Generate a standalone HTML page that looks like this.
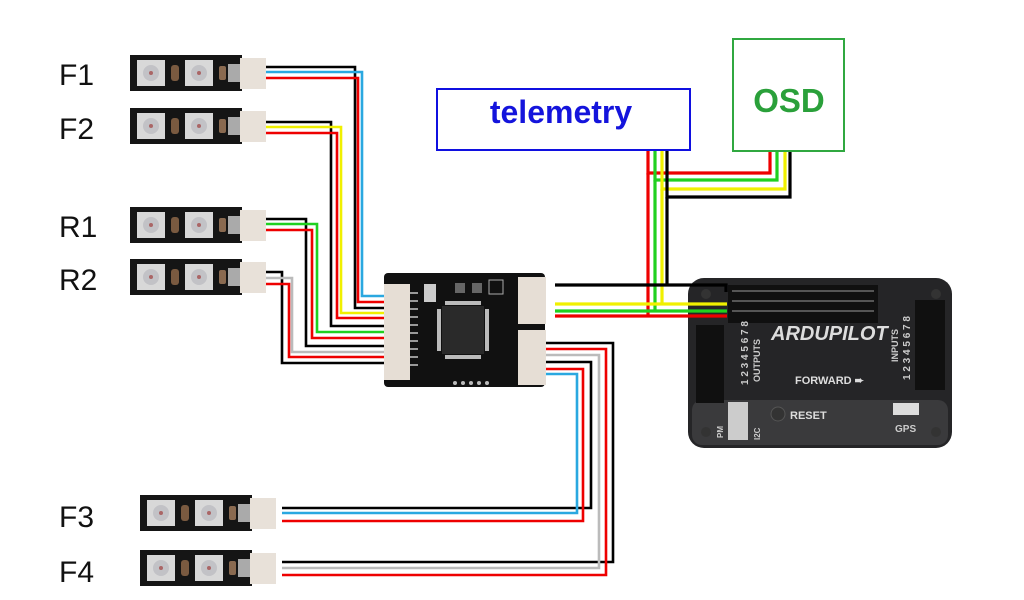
<!DOCTYPE html>
<html><head><meta charset="utf-8"><style>
html,body{margin:0;padding:0;background:#fff;width:1024px;height:600px;overflow:hidden}
svg{display:block}
</style></head><body>
<svg width="1024" height="600" viewBox="0 0 1024 600" xmlns="http://www.w3.org/2000/svg" font-family="Liberation Sans, sans-serif">
<defs>
<g id="strip">
<rect x="0" y="0" width="112" height="36" fill="#151515"/>
<rect x="7" y="5" width="28" height="26" fill="#d8d8d8"/>
<circle cx="21" cy="18" r="8" fill="#c2c2c6"/>
<circle cx="21" cy="18" r="2" fill="#a66"/>
<rect x="41" y="10" width="8" height="16" rx="3" fill="#7a5a40"/>
<rect x="55" y="5" width="28" height="26" fill="#d8d8d8"/>
<circle cx="69" cy="18" r="8" fill="#c2c2c6"/>
<circle cx="69" cy="18" r="2" fill="#a66"/>
<rect x="89" y="11" width="7" height="14" rx="2" fill="#8a6a50"/>
<rect x="98" y="9" width="14" height="18" fill="#aaa"/>
<rect x="110" y="3" width="26" height="31" fill="#e8e1d9"/>
</g>
</defs>

<g font-size="30" fill="#111">
<text x="59" y="85">F1</text>
<text x="59" y="139">F2</text>
<text x="59" y="237">R1</text>
<text x="59" y="290">R2</text>
<text x="59" y="527">F3</text>
<text x="59" y="582">F4</text>
</g>

<use href="#strip" x="130" y="55"/>
<use href="#strip" x="130" y="108"/>
<use href="#strip" x="130" y="207"/>
<use href="#strip" x="130" y="259"/>
<use href="#strip" x="140" y="495"/>
<use href="#strip" x="140" y="550"/>

<g fill="none" stroke-width="2.6">
<polyline points="266,67 355,67 355,308 386,308" stroke="#000"/>
<polyline points="266,72 362,72 362,296 386,296" stroke="#2aa8e0"/>
<polyline points="266,78 358,78 358,302 386,302" stroke="#e00"/>
<polyline points="266,122 331,122 331,326 386,326" stroke="#000"/>
<polyline points="266,127 341,127 341,313 386,313" stroke="#f0f000"/>
<polyline points="266,133 337,133 337,318 386,318" stroke="#e00"/>
<polyline points="266,219 306,219 306,346 386,346" stroke="#000"/>
<polyline points="266,224 317,224 317,332 386,332" stroke="#20d020"/>
<polyline points="266,230 312,230 312,338 386,338" stroke="#e00"/>
<polyline points="266,272 282,272 282,363 386,363" stroke="#000"/>
<polyline points="266,278 292,278 292,352 386,352" stroke="#bbb"/>
<polyline points="266,284 289,284 289,357 386,357" stroke="#e00"/>
<polyline points="545,343 613,343 613,562 282,562" stroke="#000"/>
<polyline points="545,349 606,349 606,575 282,575" stroke="#e00"/>
<polyline points="545,355 599,355 599,568 282,568" stroke="#bbb"/>
<polyline points="545,362 591,362 591,508 282,508" stroke="#000"/>
<polyline points="545,369 583,369 583,521 282,521" stroke="#e00"/>
<polyline points="545,374 577,374 577,513 282,513" stroke="#2aa8e0"/>
</g>

<rect x="384" y="273" width="161" height="114" rx="4" fill="#111"/>
<rect x="384" y="284" width="26" height="96" fill="#e6ded5"/>
<g fill="#999"><rect x="410" y="292" width="8" height="2"/><rect x="410" y="300" width="8" height="2"/><rect x="410" y="308" width="8" height="2"/><rect x="410" y="316" width="8" height="2"/><rect x="410" y="324" width="8" height="2"/><rect x="410" y="332" width="8" height="2"/><rect x="410" y="340" width="8" height="2"/><rect x="410" y="348" width="8" height="2"/><rect x="410" y="356" width="8" height="2"/><rect x="410" y="364" width="8" height="2"/></g>
<rect x="518" y="277" width="28" height="47" fill="#e6ded5"/>
<rect x="518" y="330" width="28" height="55" fill="#e6ded5"/>
<rect x="442" y="306" width="42" height="48" fill="#2a2a2a"/>
<g fill="#bbb"><rect x="445" y="301" width="36" height="4"/><rect x="445" y="355" width="36" height="4"/><rect x="437" y="309" width="4" height="42"/><rect x="485" y="309" width="4" height="42"/></g>
<rect x="424" y="284" width="12" height="18" fill="#ccc"/>
<rect x="455" y="283" width="10" height="10" fill="#666"/>
<rect x="472" y="283" width="10" height="10" fill="#666"/>
<rect x="489" y="280" width="14" height="14" fill="none" stroke="#aaa"/>
<g fill="#bbb"><circle cx="455" cy="383" r="2"/><circle cx="463" cy="383" r="2"/><circle cx="471" cy="383" r="2"/><circle cx="479" cy="383" r="2"/><circle cx="487" cy="383" r="2"/></g>

<g fill="none" stroke-width="3.2">
<polyline points="648,150 648,173 770,173 770,152" stroke="#e00"/>
<polyline points="655,150 655,180 777,180 777,152" stroke="#20d020"/>
<polyline points="662,150 662,189 785,189 785,152" stroke="#f0f000"/>
<polyline points="667,150 667,197 790,197 790,152" stroke="#000"/>
<line x1="648" y1="173" x2="648" y2="316" stroke="#e00"/>
<line x1="655" y1="180" x2="655" y2="311" stroke="#20d020"/>
<line x1="662" y1="189" x2="662" y2="304" stroke="#f0f000"/>
<line x1="667" y1="197" x2="667" y2="285" stroke="#000"/>
</g>

<rect x="688" y="278" width="264" height="170" rx="16" fill="#252527"/>
<rect x="692" y="400" width="256" height="45" rx="10" fill="#3a3a3c"/>
<rect x="728" y="285" width="150" height="38" fill="#101010"/>
<g fill="#555">
<rect x="732" y="290" width="142" height="2"/><rect x="732" y="300" width="142" height="2"/><rect x="732" y="310" width="142" height="2"/>
</g>
<rect x="696" y="325" width="28" height="78" fill="#101010"/>
<rect x="915" y="300" width="30" height="90" fill="#101010"/>
<rect x="728" y="402" width="20" height="38" fill="#ccc"/>
<rect x="893" y="403" width="26" height="12" fill="#ddd"/>
<circle cx="778" cy="414" r="7" fill="#333" stroke="#555"/>
<circle cx="706" cy="294" r="5" fill="#333"/><circle cx="936" cy="294" r="5" fill="#333"/>
<circle cx="706" cy="432" r="5" fill="#333"/><circle cx="936" cy="432" r="5" fill="#333"/>
<text x="771" y="340" font-size="20" font-style="italic" font-weight="bold" fill="#ddd">ARDUPILOT</text>
<text x="795" y="384" font-size="11" font-weight="bold" fill="#ddd">FORWARD ➨</text>
<text x="790" y="419" font-size="11" font-weight="bold" fill="#ddd">RESET</text>
<text x="895" y="432" font-size="10" font-weight="bold" fill="#ccc">GPS</text>
<text transform="translate(748,385) rotate(-90)" font-size="10" font-weight="bold" fill="#ccc">1 2 3 4 5 6 7 8</text>
<text transform="translate(760,382) rotate(-90)" font-size="9" font-weight="bold" fill="#ccc">OUTPUTS</text>
<text transform="translate(910,380) rotate(-90)" font-size="10" font-weight="bold" fill="#ccc">1 2 3 4 5 6 7 8</text>
<text transform="translate(898,362) rotate(-90)" font-size="9" font-weight="bold" fill="#ccc">INPUTS</text>
<text transform="translate(723,438) rotate(-90)" font-size="8" font-weight="bold" fill="#ccc">PM</text>
<text transform="translate(760,440) rotate(-90)" font-size="8" font-weight="bold" fill="#ccc">I2C</text>

<g fill="none" stroke-width="3.2">
<polyline points="555,285 726,285 726,292" stroke="#000"/>
<line x1="555" y1="304" x2="727" y2="304" stroke="#f0f000"/>
<line x1="555" y1="311" x2="727" y2="311" stroke="#20d020"/>
<line x1="555" y1="316" x2="727" y2="316" stroke="#e00"/>
</g>

<rect x="437" y="89" width="253" height="61" fill="#fff" stroke="#1010e0" stroke-width="2"/>
<text x="561" y="123" font-size="32" font-weight="bold" fill="#1414dc" text-anchor="middle">telemetry</text>
<rect x="733" y="39" width="111" height="112" fill="#fff" stroke="#30a840" stroke-width="2"/>
<text x="789" y="112" font-size="33" font-weight="bold" fill="#2aa03a" text-anchor="middle">OSD</text>
</svg>
</body></html>
